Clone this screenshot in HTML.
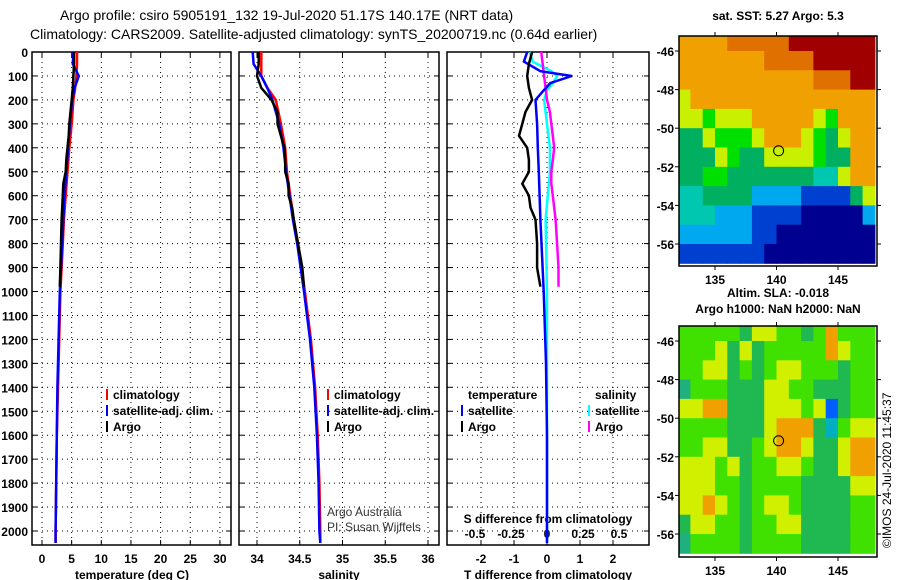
<!DOCTYPE html>
<html><head><meta charset="utf-8"><style>
body{margin:0;background:#fff;}
svg{display:block;font-family:"Liberation Sans",sans-serif;}
.b{font-weight:bold;font-size:12px;}
</style></head><body>
<svg id="c" width="900" height="580" viewBox="0 0 900 580">
<text x="60" y="20" font-size="14">Argo profile: csiro 5905191_132 19-Jul-2020 51.17S 140.17E (NRT data)</text>
<text x="30" y="39" font-size="14">Climatology: CARS2009. Satellite-adjusted climatology: synTS_20200719.nc (0.64d earlier)</text>
<text x="778" y="20" class="b" text-anchor="middle">sat. SST: 5.27 Argo: 5.3</text>
<text x="778" y="297" class="b" text-anchor="middle">Altim. SLA: -0.018</text>
<text x="778" y="313" class="b" text-anchor="middle">Argo h1000: NaN h2000: NaN</text>
<text transform="translate(891,548) rotate(-90)" font-size="12">©IMOS 24-Jul-2020 11:45:37</text>
<text x="327" y="516" font-size="12" fill="#333">Argo Australia</text>
<text x="327" y="531" font-size="12" fill="#333">PI: Susan Wijffels</text>
<g id="g"></g>
</svg>
<script>
// ---- data ----
const depthTicks=[0,100,200,300,400,500,600,700,800,900,1000,1100,1200,1300,1400,1500,1600,1700,1800,1900,2000];
const tTicks=[0,5,10,15,20,25,30];
const sTicks=[34,34.5,35,35.5,36];
const dTTicks=[-2,-1,0,1,2];
const dSTicks=[-0.5,-0.25,0,0.25,0.5];
const dSLabels=["-0.5","-0.25","0","0.25","0.5"];
const climDepth=[0,50,100,150,200,300,400,500,600,700,800,1000,1200,1400,1600,1800,2000,2050];
const climT=[5.9,5.9,5.8,5.6,5.3,5.0,4.6,4.3,4.0,3.7,3.5,3.1,2.9,2.7,2.5,2.4,2.3,2.3];
const satT=[5.3,5.2,6.2,5.5,5.1,4.7,4.4,4.1,3.8,3.6,3.4,3.0,2.8,2.6,2.5,2.4,2.3,2.3];
const climS=[34.05,34.05,34.05,34.12,34.22,34.28,34.33,34.35,34.39,34.43,34.48,34.56,34.63,34.68,34.71,34.73,34.74,34.74];
const satS=[33.95,33.96,34.05,34.12,34.18,34.26,34.31,34.34,34.38,34.42,34.47,34.55,34.62,34.67,34.70,34.72,34.73,34.74];
const argoDepth=[0,50,100,150,200,250,300,350,400,450,500,550,600,650,700,800,900,980];
const argoT=[5.4,5.4,5.3,5.2,5.0,4.8,4.6,4.5,4.3,4.1,4.0,3.6,3.5,3.4,3.3,3.2,3.1,3.0];
const argoS=[34.02,34.02,34.0,34.05,34.17,34.24,34.24,34.28,34.32,34.33,34.33,34.37,34.37,34.41,34.43,34.48,34.53,34.55];
const dTargo=[-0.45,-0.55,-0.6,-0.55,-0.45,-0.65,-0.75,-0.85,-0.6,-0.55,-0.55,-0.75,-0.55,-0.5,-0.35,-0.3,-0.3,-0.2];
const dSargo=[-0.04,-0.03,-0.02,-0.01,0.0,0.02,0.03,0.04,0.05,0.04,0.03,0.03,0.04,0.05,0.06,0.07,0.08,0.08];
const satDiffDepth=[0,40,80,100,130,160,200,300,400,500,700,1000,1300,1600,2050];
const dTsat=[-0.6,-0.7,-0.2,0.75,0.1,-0.1,-0.35,-0.3,-0.28,-0.25,-0.2,-0.1,-0.03,0,0];
const dSsat=[-0.12,-0.1,0.03,0.07,0.04,0.0,-0.02,0.0,0.02,0.02,-0.01,0.0,0.0,0,0];
const latTicks=[-46,-48,-50,-52,-54,-56];
const lonTicks=[135,140,145];
const sstGrid=["7777888889999999","7777777888899999","7777777777788899","6777777777777777","6656667777765777","4465556777654677","4446544666654477","4455444444433677","3344442222111146","3332221111000002","2222221100000000","1111111000000000"];
const slaGrid=["5555546655457555","5556464555557655","5566454566555455","3555444665544455","6677444666561455","5555444677742566","5566445677644677","6665645566544677","6665545555444466","6676545665444455","4665545566444455","3555545555444455"];
const argoLon=140.17, argoLat=-51.17;
// ---- drawing ----
const NS='http://www.w3.org/2000/svg';
const G=document.getElementById('g');
function mk(t,a,p){const e=document.createElementNS(NS,t);for(const k in a)e.setAttribute(k,a[k]);(p||G).appendChild(e);return e;}
const y0=52,yPer=23.95,yBot=545;
const yD=d=>y0+d*yPer/100;
const panels=[{x0:32,x1:231,sx:v=>42+v*5.93},{x0:239,x1:439,sx:v=>257+(v-34)*85.5},{x0:447,x1:649,sx:v=>547+v*33}];
const dSx=v=>547+v*144;
panels.forEach((p,i)=>{
  const r=mk('rect',{x:p.x0,y:y0,width:p.x1-p.x0,height:yBot-y0,fill:'none',stroke:'#000','stroke-width':1.5});
  
  
  depthTicks.forEach(d=>{const y=yD(d);
    mk('line',{x1:p.x0,x2:p.x1,y1:y,y2:y,stroke:'#000','stroke-dasharray':'1,4'});
    mk('line',{x1:p.x0,x2:p.x0+5,y1:y,y2:y,stroke:'#000'});mk('line',{x1:p.x1-5,x2:p.x1,y1:y,y2:y,stroke:'#000'});
    if(i==0){const t=mk('text',{x:28,y:y+5,'text-anchor':'end',class:'b'});t.textContent=d;
      
      }
  });
  const tk=i==0?tTicks:i==1?sTicks:dTTicks;
  tk.forEach(v=>{const x=p.sx(v);
    mk('line',{x1:x,x2:x,y1:y0,y2:yBot,stroke:'#000','stroke-dasharray':'1,4'});
    mk('line',{x1:x,x2:x,y1:yBot-5,y2:yBot,stroke:'#000'});mk('line',{x1:x,x2:x,y1:y0,y2:y0+5,stroke:'#000'});
    const t=mk('text',{x:x,y:563,'text-anchor':'middle',class:'b'});t.textContent=v;
    
    
  });
});
[['temperature (deg C)',132],['salinity',339],['T difference from climatology',548]].forEach(([s,x])=>{
  const t=mk('text',{x:x,y:579,'text-anchor':'middle',class:'b'});t.textContent=s;
  
  
});
const st=mk('text',{x:548,y:523,'text-anchor':'middle',class:'b'});st.textContent='S difference from climatology';


dSTicks.forEach((v,i)=>{const t=mk('text',{x:dSx(v),y:538,'text-anchor':'middle',class:'b'});t.textContent=dSLabels[i];
  
  });
function line(ds,vs,sx,col,name){
  const pts=ds.map((d,i)=>sx(vs[i]).toFixed(1)+','+yD(d).toFixed(1)).join(' ');
  const e=mk('polyline',{points:pts,fill:'none',stroke:col,'stroke-width':2.5});
  
  
}
const P=panels;
line(climDepth,climT,P[0].sx,'#f00','temp-climatology-line');
line(climDepth,satT,P[0].sx,'#00f','temp-satellite-line');
line(argoDepth,argoT,P[0].sx,'#000','temp-argo-line');
line(climDepth,climS,P[1].sx,'#f00','sal-climatology-line');
line(climDepth,satS,P[1].sx,'#00f','sal-satellite-line');
line(argoDepth,argoS,P[1].sx,'#000','sal-argo-line');
line(satDiffDepth,dSsat,dSx,'#0ff','s-diff-satellite-line');
line(argoDepth,dSargo,dSx,'#f0f','s-diff-argo-line');
line(satDiffDepth,dTsat,P[2].sx,'#00f','t-diff-satellite-line');
line(argoDepth,dTargo,P[2].sx,'#000','t-diff-argo-line');
function leg(x,y,col,s,name){
  if(col)mk('line',{x1:x,x2:x,y1:y-10,y2:y+1,stroke:col,'stroke-width':2});
  const t=mk('text',{x:x+6,y:y,class:'b'});t.textContent=s;
  
  
}
[[107,'temp'],[328,'sal']].forEach(([x,n])=>{
  leg(x,399,'#f00','climatology',n+'-legend-climatology');
  leg(x,415,'#00f','satellite-adj. clim.',n+'-legend-satellite');
  leg(x,431,'#000','Argo',n+'-legend-argo');
});
leg(462,399,null,'temperature','tdiff-legend-heading');
leg(462,415,'#00f','satellite','tdiff-legend-satellite');
leg(462,431,'#000','Argo','tdiff-legend-argo');
leg(589,399,null,'salinity','sdiff-legend-heading');
leg(589,415,'#0ff','satellite','sdiff-legend-satellite');
leg(589,431,'#f0f','Argo','sdiff-legend-argo');
// maps
const sstCol=['#000090','#0040d0','#00a8f0','#00c8b0','#00b060','#00e000','#c8f000','#f0a000','#e07000','#a00000'];
const slaCol=['#0040ff','#0060ff','#00b0c0','#20b080','#20b850','#40e000','#d0f000','#f0a000','#e06000','#c04000'];
function map(grid,cols,top,bot,lat46,lat56,name){
  const x0=679,x1=877;
  const lx=l=>715+(l-135)*12.3;
  const ly=l=>lat46+(l+46)*(lat56-lat46)/(-10);
  const g=mk('g',{});
  
  
  const rows=grid.length,nc=grid[0].length;
  for(let r=0;r<rows;r++)for(let c=0;c<nc;c++){
    const xa=Math.max(x0,lx(132+c)),xb=Math.min(x1,lx(133+c));
    const ya=Math.max(top,ly(-45-r)),yb=Math.min(bot,ly(-46-r));
    if(xb<=xa||yb<=ya)continue;
    const e=mk('rect',{x:xa,y:ya,width:xb-xa+0.5,height:yb-ya+0.5,fill:cols[+grid[r][c]]},g);
    
    
  }
  mk('rect',{x:x0,y:top,width:x1-x0,height:bot-top,fill:'none',stroke:'#000','stroke-width':1.5},g);
  latTicks.forEach(l=>{const y=ly(l);mk('line',{x1:x0-4,x2:x0,y1:y,y2:y,stroke:'#000'},g);mk('line',{x1:x1,x2:x1+4,y1:y,y2:y,stroke:'#000'},g);
    const t=mk('text',{x:x0-5,y:y+5,'text-anchor':'end',class:'b'},g);t.textContent=l;
    
    });
  lonTicks.forEach(l=>{const x=lx(l);mk('line',{x1:x,x2:x,y1:top-4,y2:top,stroke:'#000'},g);mk('line',{x1:x,x2:x,y1:bot,y2:bot+4,stroke:'#000'},g);
    const t=mk('text',{x:x,y:bot+18,'text-anchor':'middle',class:'b'},g);t.textContent=l;
    
    });
  const c=mk('circle',{cx:lx(argoLon),cy:ly(argoLat),r:5,fill:'none',stroke:'#000'},g);
  
  
}
map(sstGrid,sstCol,36,266,51,244,'sst-map');
map(slaGrid,slaCol,326,557,341,534,'sla-map');
</script>
</body></html>
